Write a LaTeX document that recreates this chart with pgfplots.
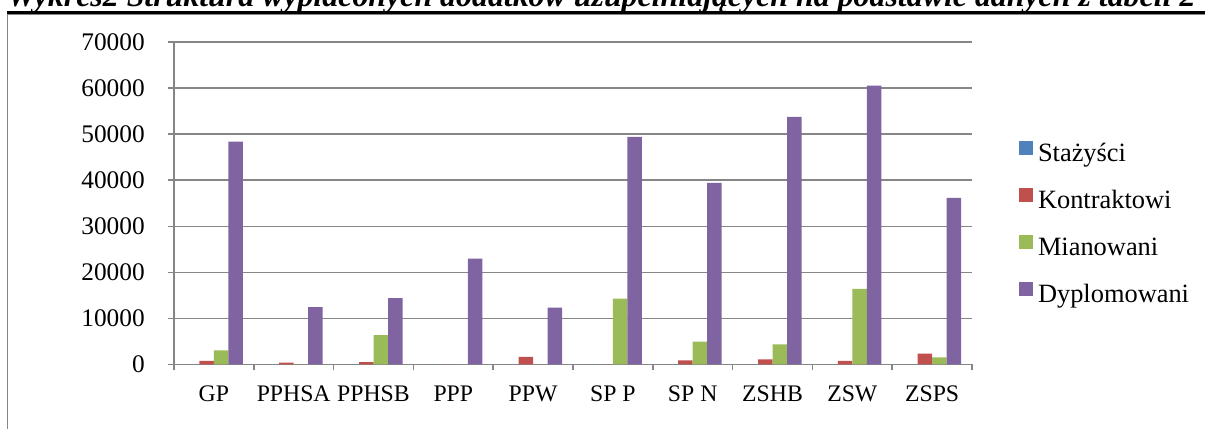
\documentclass[border=0pt]{standalone}
\usepackage{graphicx}
\usepackage{pgfplots}
\usepackage{pgfplotstable}
\pgfplotsset{compat=1.18}
\usepackage{fontspec}
\setmainfont{Liberation Serif}
\definecolor{cstaz}{HTML}{4F81BD}
\definecolor{ckontr}{HTML}{C0504D}
\definecolor{cmian}{HTML}{9BBB59}
\definecolor{cdypl}{HTML}{8064A2}
\definecolor{axgray}{HTML}{868686}

\pgfplotstableread{
idx staz kontr mian dypl
0 0 760 3080 48360
1 0 390 0 12480
2 0 540 6400 14430
3 0 0 0 22970
4 0 1630 0 12330
5 0 0 14280 49380
6 0 910 4950 39400
7 0 1130 4380 53720
8 0 760 16390 60520
9 0 2340 1560 36140
}\datatable

\begin{document}
\begin{tikzpicture}
\useasboundingbox (0pt,0pt) rectangle (903.75pt,321pt);
\node[anchor=base west, inner sep=0pt] at (5.25pt,315.75pt) {\resizebox{891pt}{!}{\bfseries\itshape Wykres2 Struktura wypłaconych dodatków uzupełniających na podstawie danych z tabeli 2}};
\draw[black, line width=1.9pt] (5.25pt,311.5pt) -- (910pt,311.5pt);
\draw[axgray, line width=1.1pt] (5.6pt,-10pt) -- (5.6pt,310.1pt) -- (910pt,310.1pt);
\begin{axis}[
 at={(130.5pt,47.625pt)}, anchor=south west,
 width=598.5pt, height=241.875pt, scale only axis,
 xmin=-0.5, xmax=9.5, ymin=0, ymax=70000,
 axis x line*=bottom, axis y line*=left,
 axis line style={draw=axgray, line width=1.1pt},
 ybar=0pt, bar width=10.875pt,
 ytick={0,10000,20000,30000,40000,50000,60000,70000},
 ymajorgrids, grid style={draw=axgray, line width=1.1pt},
 tick align=outside, major tick length=4.5pt,
 tick style={draw=axgray, line width=1.1pt},
 xtick={-0.5,0.5,1.5,2.5,3.5,4.5,5.5,6.5,7.5,8.5,9.5}, xticklabels={},
 extra x ticks={0,1,2,3,4,5,6,7,8,9},
 extra x tick labels={GP,PPHSA,PPHSB,PPP,PPW,SP P,SP N,ZSHB,ZSW,ZSPS},
 extra x tick style={major tick length=0pt, grid=none},
 xticklabel style={font=\fontsize{17.8}{18}\selectfont, anchor=base, inner sep=0pt, yshift=-27.9pt},
 yticklabel style={font=\fontsize{19}{19}\selectfont, anchor=east, inner sep=0pt, xshift=-17.25pt},
 /pgf/number format/assume math mode=true,
 /pgf/number format/1000 sep={},
 scaled y ticks=false,
 legend style={at={(1.0589,0.692)}, anchor=north west, draw=none, fill=none, inner sep=0pt, outer sep=0pt, row sep=15.1pt, column sep=3.75pt, font=\fontsize{19.8}{20}\selectfont, nodes={inner sep=0pt, text height=14.5pt, text depth=4.5pt}},
 legend image code/.code={\fill[#1] (0pt,0pt) rectangle (10.5pt,10.5pt);},
 legend cell align=left,
]
\addplot[fill=cstaz, draw=none] table[x=idx,y=staz]{\datatable};
\addplot[fill=ckontr, draw=none] table[x=idx,y=kontr]{\datatable};
\addplot[fill=cmian, draw=none] table[x=idx,y=mian]{\datatable};
\addplot[fill=cdypl, draw=none] table[x=idx,y=dypl]{\datatable};
\legend{Stażyści,Kontraktowi,Mianowani,Dyplomowani}
\end{axis}
\end{tikzpicture}
\end{document}
